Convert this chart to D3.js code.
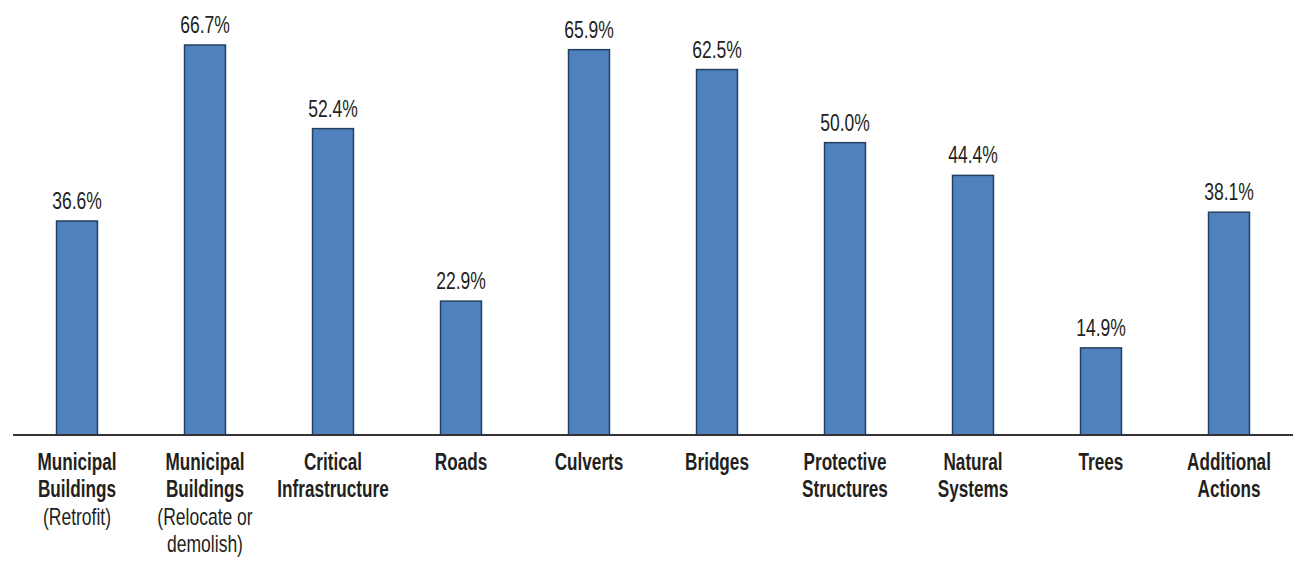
<!DOCTYPE html>
<html>
<head>
<meta charset="utf-8">
<script src="https://cdn.jsdelivr.net/npm/d3@7"></script>
<style>
  body { margin: 0; background: #fff; }
  text { font-family: "Liberation Sans", Arial, sans-serif; fill: #231f20; }
</style>
</head>
<body>
<div id="chart"></div>
<script>
// categories: first lines are bold, extra lines are plain
var categories = ["Municipal Buildings (Retrofit)", "Municipal Buildings (Relocate or demolish)",
    "Critical Infrastructure", "Roads", "Culverts", "Bridges", "Protective Structures",
    "Natural Systems", "Trees", "Additional Actions"];
var boldLines = [["Municipal", "Buildings"], ["Municipal", "Buildings"], ["Critical", "Infrastructure"],
    ["Roads"], ["Culverts"], ["Bridges"], ["Protective", "Structures"], ["Natural", "Systems"],
    ["Trees"], ["Additional", "Actions"]];
var plainLines = [["(Retrofit)"], ["(Relocate or", "demolish)"], [], [], [], [], [], [], [], []];
var values = [36.6, 66.7, 52.4, 22.9, 65.9, 62.5, 50.0, 44.4, 14.9, 38.1];

var width = 1293, height = 586;
var margin = {left: 13, right: 0, top: 45, baseline: 435};
var squeeze = 0.73; // the font in the picture is narrow

var svg = d3.select("#chart").append("svg")
    .attr("width", width)
    .attr("height", height);

var x = d3.scaleBand()
    .domain(categories)
    .range([margin.left, width - margin.right])
    .paddingInner(0.68)
    .paddingOuter(0.34);

var y = d3.scaleLinear()
    .domain([0, 66.7])
    .range([margin.baseline, margin.top]);

// bars
svg.selectAll("rect.bar")
    .data(values)
    .enter().append("rect")
    .attr("class", "bar")
    .attr("x", function (d, i) { return x(categories[i]); })
    .attr("y", function (d) { return y(d); })
    .attr("width", x.bandwidth())
    .attr("height", function (d) { return y(0) - y(d); })
    .attr("fill", "#4f81bd")
    .attr("stroke", "#243f60")
    .attr("stroke-width", 1.5);

// value labels
svg.selectAll("text.value")
    .data(values)
    .enter().append("text")
    .attr("class", "value")
    .attr("transform", function (d, i) {
        return "translate(" + (x(categories[i]) + x.bandwidth() / 2) + "," + (y(d) - 12) + ") scale(" + squeeze + ",1)";
    })
    .attr("text-anchor", "middle")
    .style("font-size", "24px")
    .text(function (d) { return d.toFixed(1) + "%"; });

// baseline
svg.append("line")
    .attr("x1", margin.left)
    .attr("x2", width)
    .attr("y1", y(0))
    .attr("y2", y(0))
    .attr("stroke", "#333")
    .attr("stroke-width", 2);

// category labels
var lab = svg.selectAll("g.cat")
    .data(categories)
    .enter().append("g")
    .attr("class", "cat")
    .attr("transform", function (d) {
        return "translate(" + (x(d) + x.bandwidth() / 2) + "," + (y(0) + 35) + ")";
    });

lab.each(function (d, i) {
    var g = d3.select(this);
    var lines = boldLines[i].map(function (t) { return {t: t, b: true}; })
        .concat(plainLines[i].map(function (t) { return {t: t, b: false}; }));
    lines.forEach(function (l, j) {
        g.append("text")
            .attr("transform", "translate(0," + (j * 27.3) + ") scale(" + squeeze + ",1)")
            .attr("text-anchor", "middle")
            .style("font-size", l.b ? "23.5px" : "24px")
            .style("font-weight", l.b ? "bold" : "normal")
            .text(l.t);
    });
});
</script>
</body>
</html>
